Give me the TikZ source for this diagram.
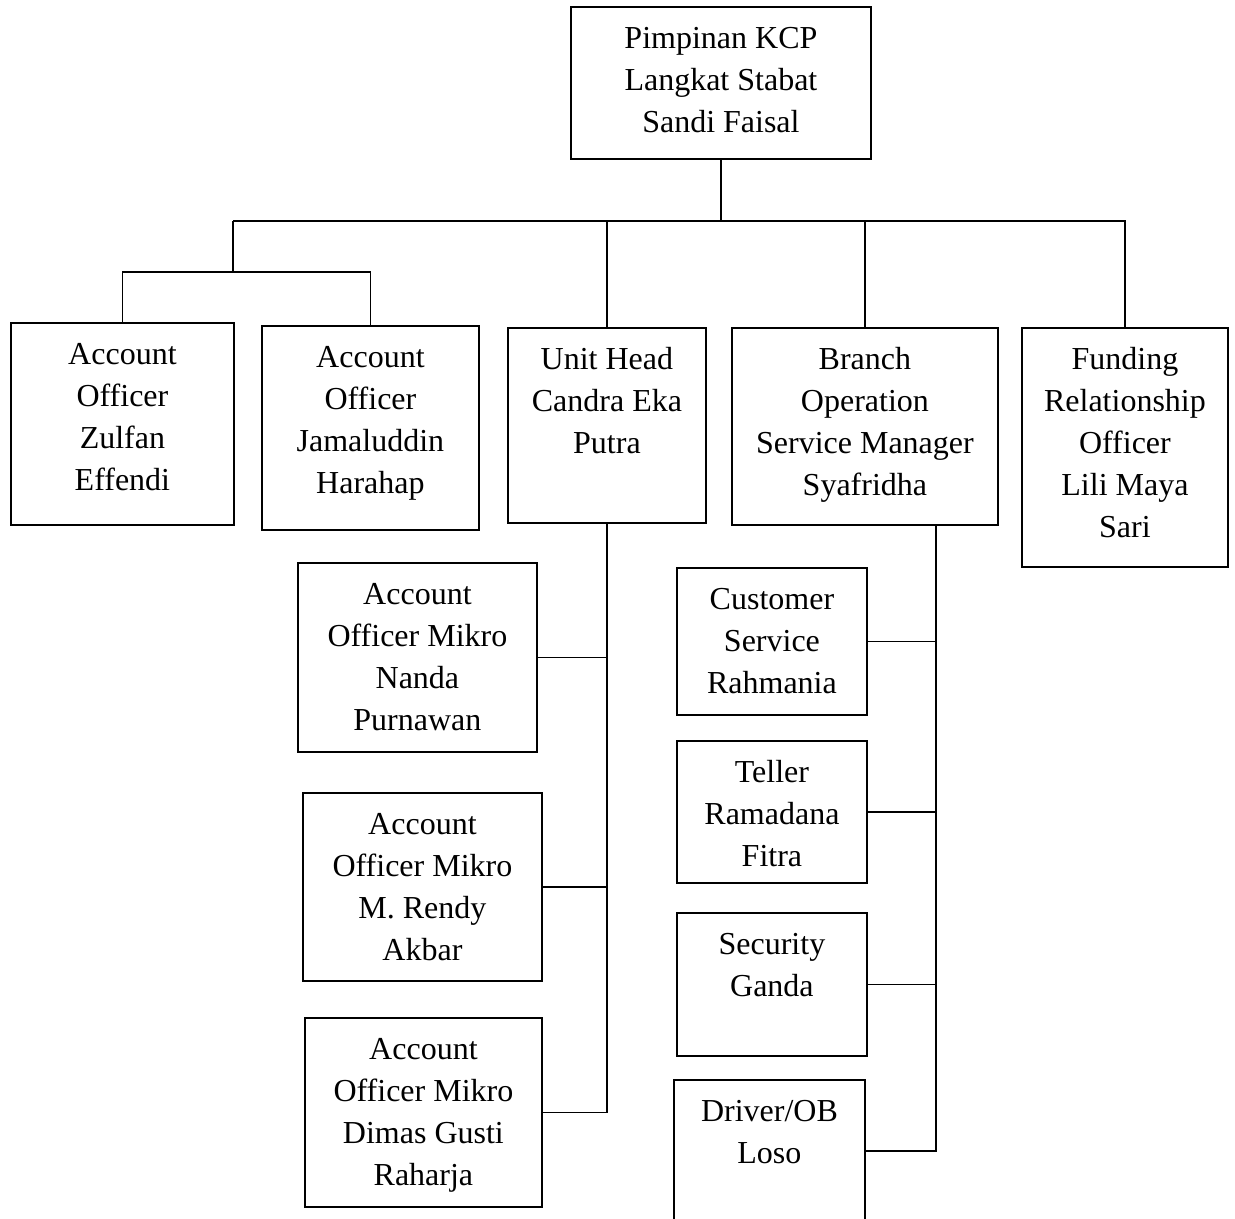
\documentclass[tikz,border=0pt]{standalone}
\usepackage{fontspec}
\setmainfont{Liberation Serif}
\usepackage{tikz}

\begin{document}
\begin{tikzpicture}[
    x=0.75pt, y=-0.75pt, line width=1.4pt,
    box/.style={draw, align=center, inner sep=0pt, anchor=north west,
        font=\fontsize{24}{31.5}\selectfont}
]
\useasboundingbox (0,0) rectangle (1235,1218);
\clip (0,0) rectangle (1235,1218);

% Nodes :
\node[box, minimum width=225pt, text height=94.5pt, text depth=19.5pt] (kcp) at (570,6) {Pimpinan KCP\\Langkat Stabat\\Sandi Faisal};

\node[box, minimum width=167.25pt, text height=126pt, text depth=25.5pt] (ao1) at (10,322) {Account\\Officer\\Zulfan\\Effendi};
\node[box, minimum width=162.75pt, text height=126pt, text depth=27pt] (ao2) at (261,325) {Account\\Officer\\Jamaluddin\\Harahap};
\node[box, minimum width=148.5pt, text height=94.5pt, text depth=51.75pt] (uh) at (507,327) {Unit Head\\Candra Eka\\Putra};
\node[box, minimum width=199.5pt, text height=126pt, text depth=21.75pt] (bosm) at (731,327) {Branch\\Operation\\Service Manager\\Syafridha};
\node[box, minimum width=154.5pt, text height=157.5pt, text depth=21.75pt] (fro) at (1021,327) {Funding\\Relationship\\Officer\\Lili Maya\\Sari};

\node[box, minimum width=179.25pt, text height=126pt, text depth=15.75pt] (aom1) at (297,562) {Account\\Officer Mikro\\Nanda\\Purnawan};
\node[box, minimum width=179.25pt, text height=126pt, text depth=15pt] (aom2) at (302,792) {Account\\Officer Mikro\\M. Rendy\\Akbar};
\node[box, minimum width=177.75pt, text height=126pt, text depth=15.75pt] (aom3) at (304,1017) {Account\\Officer Mikro\\Dimas Gusti\\Raharja};

\node[box, minimum width=142.5pt, text height=94.5pt, text depth=15.75pt] (cs) at (676,567) {Customer\\Service\\Rahmania};
\node[box, minimum width=142.5pt, text height=94.5pt, text depth=12pt] (tel) at (676,740) {Teller\\Ramadana\\Fitra};
\node[box, minimum width=142.5pt, text height=63pt, text depth=44.25pt] (sec) at (676,912) {Security\\Ganda};
\node[box, minimum width=143.25pt, text height=63pt, text depth=43.5pt] (drv) at (673,1079) {Driver/OB\\Loso};

\coordinate (busL) at (233,221);
\coordinate (aoL) at (233,272);
\coordinate (bo) at ([xshift=-47.25pt]bosm.south east);

% Edges :
\draw (kcp.south) -- (kcp.south |- busL);
\draw (busL) -- (fro.north |- busL) -- (fro.north);
\draw (busL) -- (aoL);
\draw (ao1.north) |- (aoL) -| (ao2.north);
\draw (uh.north |- busL) -- (uh.north);
\draw (bosm.north |- busL) -- (bosm.north);

\draw (uh.south) |- (aom3.east);
\draw (aom1.east) -- (aom1.east -| uh.south);
\draw (aom2.east) -- (aom2.east -| uh.south);

\draw (bo) |- (drv.east);
\draw (cs.east) -- (cs.east -| bo);
\draw (tel.east) -- (tel.east -| bo);
\draw (sec.east) -- (sec.east -| bo);

\end{tikzpicture}
\end{document}
